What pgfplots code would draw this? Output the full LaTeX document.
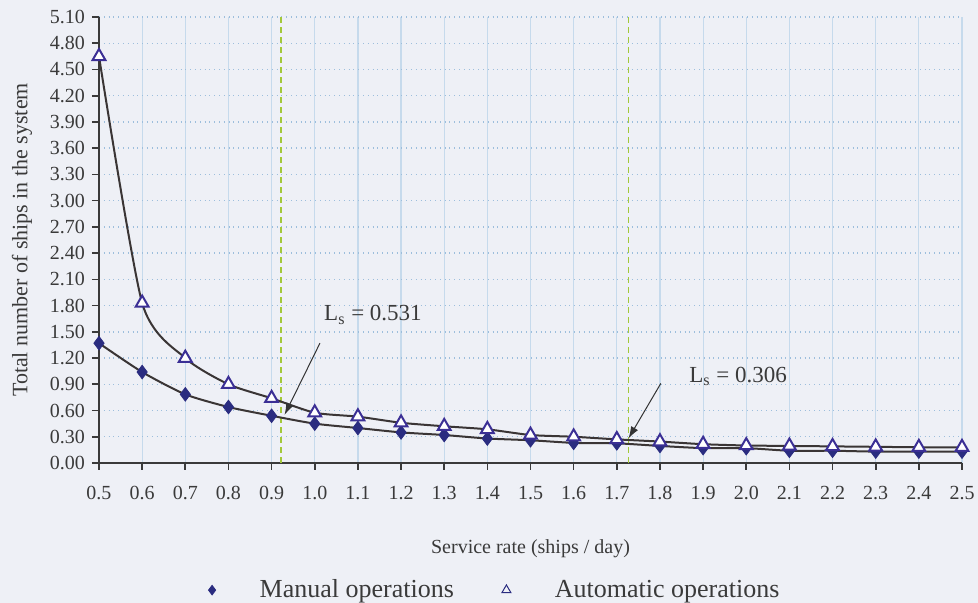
\documentclass[border=0pt]{standalone}
\usepackage{pgfplots}
\pgfplotsset{compat=1.18}
\usetikzlibrary{arrows.meta}
\usepackage{fontspec}
\setmainfont{Liberation Serif}

\definecolor{bgcol}{HTML}{EEF0F6}
\definecolor{txt}{HTML}{3A3A3A}
\definecolor{gridv}{HTML}{C6DAEC}
\definecolor{gridh}{HTML}{9DBEDC}
\definecolor{navy}{HTML}{2A2C80}
\definecolor{tri}{HTML}{3B2F95}
\definecolor{curve}{HTML}{3A3535}
\definecolor{mark green}{HTML}{A3C83A}

\begin{document}
\begin{tikzpicture}[font=\fontsize{10}{12}\selectfont, text=txt]
\fill[bgcol] (-49.5pt,-70pt) rectangle (439.5pt,231.5pt);
\path[use as bounding box] (-49.5pt,-70pt) rectangle (439.5pt,231.5pt);
\begin{axis}[
    scale only axis,
    width=431.5pt,
    height=223pt,
    xmin=0.5, xmax=2.5,
    ymin=0, ymax=5.1,
    axis x line=bottom,
    axis y line=left,
    axis line style={-, draw=txt, line width=0.8pt},
    tick align=outside,
    major tick length=3.5pt,
    tick style={draw=txt, line width=0.8pt},
    xtick={0.5,0.6,...,2.51},
    ytick={0,0.3,0.6,0.9,1.2,1.5,1.8,2.1,2.4,2.7,3.0,3.3,3.6,3.9,4.2,4.5,4.8,5.1},
    xticklabel style={/pgf/number format/fixed, /pgf/number format/fixed zerofill,
        /pgf/number format/precision=1, /pgf/number format/assume math mode=true, yshift=-4.5pt},
    yticklabel style={/pgf/number format/fixed, /pgf/number format/fixed zerofill,
        /pgf/number format/precision=2, /pgf/number format/assume math mode=true},
    grid=major,
    x grid style={gridv, line width=0.6pt},
    y grid style={gridh, dotted, line width=0.7pt},
    xlabel={Service rate (ships / day)},
    ylabel={Total number of ships in the system},
    xlabel style={yshift=-13pt},
    ylabel style={yshift=2pt, font=\fontsize{11}{13}\selectfont},
    legend columns=2,
    legend style={at={(0.46,-0.285)}, anchor=center, draw=none, fill=none,
        font=\fontsize{13}{15}\selectfont,
        /tikz/every odd column/.append style={column sep=20pt},
        /tikz/every even column/.append style={column sep=22pt}},
    legend cell align=left,
]
% vertical reference lines
\addplot[mark green, densely dashed, line width=0.6pt, forget plot] coordinates {(0.922,0) (0.922,5.1)};
\addplot[mark green, densely dashed, line width=0.6pt, forget plot] coordinates {(1.727,0) (1.727,5.1)};

% Manual operations
\addplot[curve, line width=1pt, smooth, tension=0.4, mark=diamond*, mark size=3.4pt,
    mark options={fill=navy, draw=navy, line width=0.4pt}, forget plot] coordinates {
    (0.5,1.37) (0.6,1.04) (0.7,0.785) (0.8,0.64) (0.9,0.54) (1.0,0.45)
    (1.1,0.40) (1.2,0.35) (1.3,0.32) (1.4,0.28) (1.5,0.26) (1.6,0.23)
    (1.7,0.225) (1.8,0.195) (1.9,0.17) (2.0,0.17) (2.1,0.14) (2.2,0.14)
    (2.3,0.13) (2.4,0.13) (2.5,0.13)
};
% Automatic operations
\addplot[curve, line width=1pt, smooth, tension=0.4, mark=triangle*, mark size=3.7pt,
    mark options={fill=white, draw=tri, line width=1pt}, forget plot] coordinates {
    (0.5,4.65) (0.6,1.83) (0.7,1.20) (0.8,0.90) (0.9,0.74) (1.0,0.575)
    (1.1,0.53) (1.2,0.46) (1.3,0.42) (1.4,0.385) (1.5,0.32) (1.6,0.30)
    (1.7,0.27) (1.8,0.245) (1.9,0.215) (2.0,0.20) (2.1,0.195) (2.2,0.19)
    (2.3,0.185) (2.4,0.18) (2.5,0.18)
};
\addlegendimage{only marks, mark=diamond*, mark size=2.4pt, mark options={fill=navy, draw=navy}}
\addlegendentry{Manual operations}
\addlegendimage{only marks, mark=triangle, mark size=2.6pt, mark options={draw=navy, line width=0.5pt}}
\addlegendentry{Automatic operations}

% annotations
\node[font=\fontsize{11.5}{13}\selectfont] at (axis cs:1.135,1.69) {L\textsubscript{s} = 0.531};
\draw[-{Latex[length=6pt,width=4pt]}, draw=black!80, line width=0.5pt] (axis cs:1.012,1.37) -- (axis cs:0.93,0.55);
\node[font=\fontsize{11.5}{13}\selectfont] at (axis cs:1.981,0.99) {L\textsubscript{s} = 0.306};
\draw[-{Latex[length=6pt,width=4pt]}, draw=black!80, line width=0.5pt] (axis cs:1.802,0.91) -- (axis cs:1.727,0.28);
\end{axis}
\end{tikzpicture}
\end{document}
